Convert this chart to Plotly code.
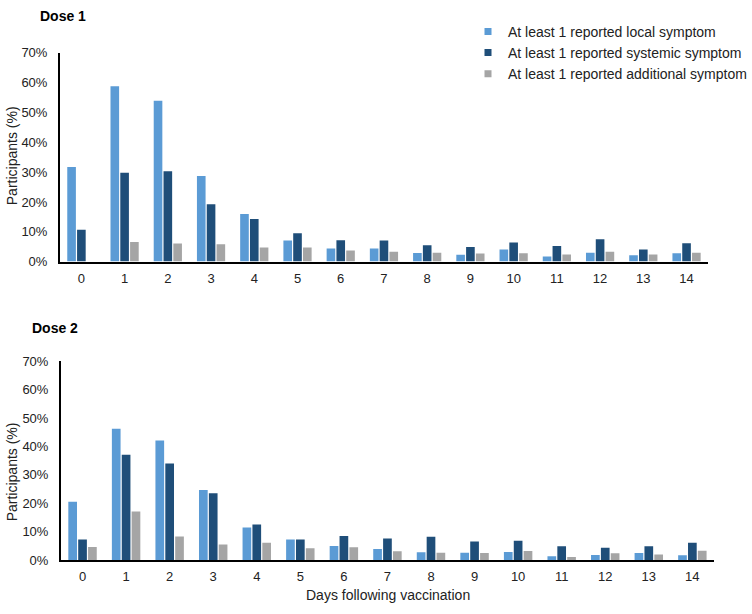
import plotly.graph_objects as go

days = [str(d) for d in range(15)]
series_names = ["At least 1 reported local symptom",
                "At least 1 reported systemic symptom",
                "At least 1 reported additional symptom"]
colors = ["#5B9BD5", "#1F4E79", "#A5A5A5"]

dose1_local = [31.7, 58.8, 53.9, 28.7, 16.0, 7.1, 4.4, 4.4, 2.9, 2.3, 4.1, 1.7, 3.0, 2.1, 2.8]
dose1_systemic = [10.7, 29.8, 30.3, 19.2, 14.3, 9.5, 7.2, 7.1, 5.5, 4.9, 6.4, 5.2, 7.5, 4.1, 6.2]
dose1_additional = [0.0, 6.6, 6.1, 5.8, 4.7, 4.7, 3.7, 3.3, 3.0, 2.7, 2.8, 2.4, 3.3, 2.4, 3.0]

dose2_local = [20.5, 46.2, 42.1, 24.7, 11.5, 7.3, 5.0, 3.9, 2.8, 2.6, 2.9, 1.4, 1.8, 2.5, 1.7]
dose2_systemic = [7.3, 37.1, 34.0, 23.5, 12.5, 7.3, 8.5, 7.6, 8.2, 6.6, 6.8, 4.9, 4.4, 4.9, 6.1]
dose2_additional = [4.6, 17.1, 8.3, 5.5, 6.1, 4.2, 4.5, 3.1, 2.6, 2.5, 3.2, 1.1, 2.4, 2.0, 3.3]

y_ticks = [0, 10, 20, 30, 40, 50, 60, 70]
y_tick_labels = ["0%", "10%", "20%", "30%", "40%", "50%", "60%", "70%"]

FONT = "Arial, Liberation Sans, sans-serif"

fig = go.Figure()
for vals, name, col in zip([dose1_local, dose1_systemic, dose1_additional], series_names, colors):
    fig.add_trace(go.Bar(x=days, y=vals, name=name, marker_color=col,
                         marker_line_width=0, xaxis="x", yaxis="y", showlegend=False))
for vals, name, col in zip([dose2_local, dose2_systemic, dose2_additional], series_names, colors):
    fig.add_trace(go.Bar(x=days, y=vals, name=name, marker_color=col,
                         marker_line_width=0, xaxis="x2", yaxis="y2", showlegend=False))
# legend entries with small square markers
for name, col in zip(series_names, colors):
    fig.add_trace(go.Scatter(x=[None], y=[None], mode="markers", name=name,
                             marker=dict(symbol="square", size=7, color=col),
                             xaxis="x", yaxis="y", showlegend=True))

xcommon = dict(type="category", showline=True, linecolor="black", linewidth=1.5,
               showgrid=False, zeroline=False, ticks="",
               tickfont=dict(family=FONT, size=13, color="#222"), ticklabelstandoff=4)
ycommon = dict(range=[0, 70], tickmode="array", tickvals=y_ticks, ticktext=y_tick_labels,
               showline=True, linecolor="black", linewidth=1.5, showgrid=False,
               zeroline=False, ticks="",
               tickfont=dict(family=FONT, size=13, color="#222"), ticklabelstandoff=8)

W, H = 752, 614
fig.update_layout(
    width=W, height=H,
    margin=dict(l=0, r=0, t=0, b=0),
    paper_bgcolor="white", plot_bgcolor="white",
    barmode="group", bargap=0.32, bargroupgap=0.12,
    font=dict(family=FONT, color="#222"),
    xaxis=dict(domain=[60 / W, 711 / W], anchor="y", **xcommon),
    yaxis=dict(domain=[1 - 261 / H, 1 - 47 / H], anchor="x", **ycommon),
    xaxis2=dict(domain=[61 / W, 717 / W], anchor="y2", **xcommon),
    yaxis2=dict(domain=[1 - 567 / H, 1 - 363 / H], anchor="x2", **ycommon),
    legend=dict(x=470 / W, y=1 - 9 / H, xanchor="left", yanchor="top",
                font=dict(family=FONT, size=14, color="#222"),
                bgcolor="rgba(0,0,0,0)", itemwidth=30, tracegroupgap=0),
    annotations=[
        dict(text="<b>Dose 1</b>", x=38 / W, y=1 - 9 / H, xref="paper", yref="paper",
             xanchor="left", yanchor="middle", showarrow=False,
             font=dict(family=FONT, size=14, color="black")),
        dict(text="<b>Dose 2</b>", x=30 / W, y=1 - 329 / H, xref="paper", yref="paper",
             xanchor="left", yanchor="middle", showarrow=False,
             font=dict(family=FONT, size=14, color="black")),
        dict(text="Participants (%)", x=12 / W, y=1 - 152 / H, xref="paper", yref="paper",
             xanchor="center", yanchor="middle", textangle=-90, showarrow=False,
             font=dict(family=FONT, size=14, color="#222")),
        dict(text="Participants (%)", x=12 / W, y=1 - 476 / H, xref="paper", yref="paper",
             xanchor="center", yanchor="middle", textangle=-90, showarrow=False,
             font=dict(family=FONT, size=14, color="#222")),
        dict(text="Days following vaccination", x=390 / W, y=1 - 603 / H, xref="paper",
             yref="paper", xanchor="center", yanchor="middle", showarrow=False,
             font=dict(family=FONT, size=14, color="#222")),
    ],
)

fig.write_html("out.html", config={"displayModeBar": False},
               post_script="document.body.style.margin='0';")
